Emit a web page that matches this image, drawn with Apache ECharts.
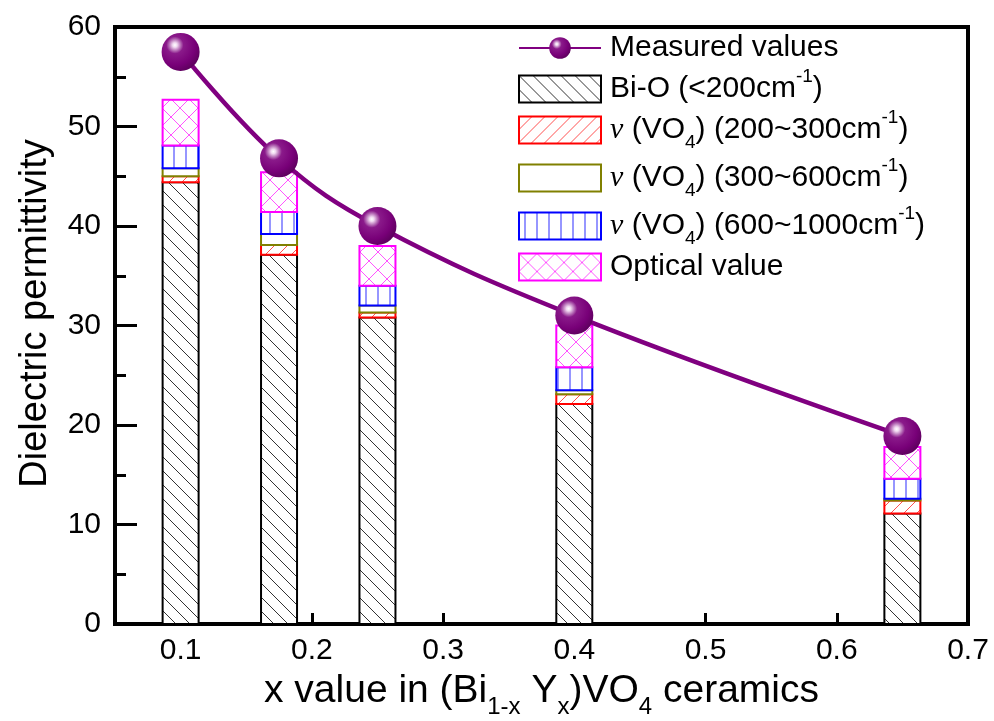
<!DOCTYPE html>
<html>
<head>
<meta charset="utf-8">
<title>Dielectric permittivity</title>
<script src="https://cdn.jsdelivr.net/npm/echarts@6.0.0/dist/echarts.min.js"></script>
<style>
  html, body { margin: 0; padding: 0; background: #fff; }
  #chart { width: 994px; height: 721px; }
</style>
</head>
<body>
<div id="chart"></div>
<script>
// x = Y content in (Bi1-xYx)VO4
const xValues = [0.1, 0.175, 0.25, 0.4, 0.65]
const measured = [57.5, 46.8, 40.0, 31.0, 18.9]
// stacked contributions (bottom to top)
const biO = [44.4, 37.1, 30.8, 22.1, 11.1]
const vo4Low = [0.6, 1.0, 0.5, 1.0, 1.3]
const vo4Mid = [0.8, 1.1, 0.7, 0.4, 0.2]
const vo4High = [2.3, 2.2, 2.0, 2.3, 2.0]
const optical = [4.6, 4.0, 4.0, 4.2, 3.2]
const xTicks = [0.1, 0.2, 0.3, 0.4, 0.5, 0.6, 0.7]

const FONT = 'Liberation Sans, Arial, sans-serif'
const BAR_W = 36

// small repeating canvas tiles for the hatch fills
function hatch(size, color, width, draw) {
  const c = document.createElement('canvas')
  c.width = size
  c.height = size
  const ctx = c.getContext('2d')
  ctx.fillStyle = '#fff'
  ctx.fillRect(0, 0, size, size)
  ctx.strokeStyle = color
  ctx.lineWidth = width
  ctx.beginPath()
  draw(ctx, size)
  ctx.stroke()
  return { image: c, repeat: 'repeat' }
}
const back = (ctx, s) => {
  for (const k of [-1, 0, 1]) { ctx.moveTo(k * s, 0); ctx.lineTo(k * s + s, s) }
}
const fwd = (ctx, s) => {
  for (const k of [-1, 0, 1]) { ctx.moveTo(k * s, s); ctx.lineTo(k * s + s, 0) }
}
const vert = (ctx, s) => { ctx.moveTo(s / 2, 0); ctx.lineTo(s / 2, s) }
const cross = (ctx, s) => { back(ctx, s); fwd(ctx, s) }

const pBiO = hatch(14, '#333', 1, back)
const pLow = hatch(13, '#ff5050', 1, fwd)
const pHigh = hatch(12, '#5050ff', 1.2, vert)
const pOpt = hatch(18, '#ff55ff', 1, cross)

// segments stacked in this order
const segments = [
  { name: 'Bi-O', values: biO, fill: pBiO, border: '#000' },
  { name: 'v1', values: vo4Low, fill: pLow, border: '#ff0000' },
  { name: 'v2', values: vo4Mid, fill: '#fff', border: '#808000' },
  { name: 'v3', values: vo4High, fill: pHigh, border: '#0000ff' },
  { name: 'Optical value', values: optical, fill: pOpt, border: '#ff00ff' }
]

// [x, bottom, top] rows for each segment
function stackedRows(k) {
  return xValues.map((x, i) => {
    let lo = 0
    for (let j = 0; j < k; j++) lo += segments[j].values[i]
    return [x, lo, lo + segments[k].values[i]]
  })
}

function segmentSeries(seg, k) {
  return {
    name: seg.name,
    type: 'custom',
    data: stackedRows(k),
    encode: { x: 0, y: [1, 2] },
    itemStyle: { color: seg.fill, borderColor: seg.border, borderWidth: 2 },
    z: 2,
    renderItem: (params, api) => {
      const x = api.value(0)
      const p0 = api.coord([x, api.value(1)])
      const p1 = api.coord([x, api.value(2)])
      return {
        type: 'rect',
        shape: { x: p0[0] - BAR_W / 2, y: p1[1], width: BAR_W, height: p0[1] - p1[1] },
        style: { fill: seg.fill, stroke: seg.border, lineWidth: 2 }
      }
    }
  }
}

const legendLabels = {
  'Measured values': '{t|Measured values}',
  'Bi-O': '{t|Bi-O (<200cm}{sup|-1}{t|)}',
  'v1': '{nu|ν}{t| (VO}{sub|4}{t|) (200~300cm}{sup|-1}{t|)}',
  'v2': '{nu|ν}{t| (VO}{sub|4}{t|) (300~600cm}{sup|-1}{t|)}',
  'v3': '{nu|ν}{t| (VO}{sub|4}{t|) (600~1000cm}{sup|-1}{t|)}',
  'Optical value': '{t|Optical value}'
}

const sphere = {
  type: 'radial',
  x: 0.35,
  y: 0.32,
  r: 0.75,
  colorStops: [
    { offset: 0, color: '#ffffff' },
    { offset: 0.08, color: '#f0d8f0' },
    { offset: 0.18, color: '#c080c0' },
    { offset: 0.3, color: '#8a1a8a' },
    { offset: 0.7, color: '#780078' },
    { offset: 1, color: '#5a005a' }
  ]
}

const chart = echarts.init(document.getElementById('chart'))
chart.setOption({
  animation: false,
  backgroundColor: '#fff',
  grid: {
    left: 115, right: 26, top: 27, bottom: 97,
    containLabel: false,
    outerBoundsMode: 'none',
    show: true, borderColor: '#000', borderWidth: 4, backgroundColor: 'transparent'
  },
  legend: {
    orient: 'vertical',
    left: 513,
    top: 28,
    itemWidth: 82,
    itemHeight: 27,
    itemGap: 4,
    selectedMode: false,
    data: [
      { name: 'Measured values' },
      { name: 'Bi-O', icon: 'rect' },
      { name: 'v1', icon: 'rect' },
      { name: 'v2', icon: 'rect' },
      { name: 'v3', icon: 'rect' },
      { name: 'Optical value', icon: 'rect' }
    ],
    formatter: (n) => legendLabels[n],
    textStyle: {
      fontFamily: FONT,
      fontSize: 30,
      color: '#000',
      padding: [0, 0, 0, 4],
      rich: {
        t: { fontFamily: FONT, fontSize: 30, lineHeight: 44, verticalAlign: 'middle', color: '#000' },
        nu: { fontFamily: 'Liberation Serif, serif', fontStyle: 'italic', fontSize: 30, lineHeight: 44, color: '#000' },
        sup: { fontFamily: FONT, fontSize: 19, lineHeight: 20, verticalAlign: 'top', color: '#000' },
        sub: { fontFamily: FONT, fontSize: 19, lineHeight: 14, verticalAlign: 'bottom', color: '#000' }
      }
    }
  },
  xAxis: {
    type: 'value',
    min: 0.05,
    max: 0.7,
    splitLine: { show: false },
    axisLine: { lineStyle: { color: '#000', width: 4 } },
    axisTick: { inside: true, length: 11, lineStyle: { width: 3, color: '#000' }, customValues: xTicks },
    axisLabel: {
      customValues: xTicks,
      formatter: (v) => v.toFixed(1),
      fontFamily: FONT,
      fontSize: 30,
      color: '#000',
      margin: 12
    },
    name: '{t|x value in (Bi}{sub|1-x}{t| Y}{sub|x}{t|)VO}{sub|4}{t| ceramics}',
    nameLocation: 'middle',
    nameGap: 39,
    nameTextStyle: {
      rich: {
        t: { fontFamily: FONT, fontSize: 39, lineHeight: 56, verticalAlign: 'middle', color: '#000' },
        sub: { fontFamily: FONT, fontSize: 24, lineHeight: 20, verticalAlign: 'bottom', color: '#000' }
      }
    }
  },
  yAxis: {
    type: 'value',
    min: 0,
    max: 60,
    interval: 10,
    splitLine: { show: false },
    axisLine: { lineStyle: { color: '#000', width: 4 } },
    axisTick: { inside: true, length: 22, lineStyle: { width: 3, color: '#000' } },
    minorTick: { show: true, splitNumber: 2, length: 11, lineStyle: { width: 3, color: '#000' } },
    axisLabel: { fontFamily: FONT, fontSize: 30, color: '#000', margin: 14 },
    name: 'Dielectric permittivity',
    nameLocation: 'middle',
    nameGap: 60,
    nameTextStyle: { fontFamily: FONT, fontSize: 38, color: '#000', padding: [0, 0, 0, 24] }
  },
  series: [
    ...segments.map(segmentSeries),
    {
      name: 'Measured values',
      type: 'line',
      data: measured.map((y, i) => [xValues[i], y]),
      smooth: 0.4,
      symbol: 'circle',
      symbolSize: 38,
      lineStyle: { color: '#800080', width: 4.5 },
      itemStyle: { color: sphere },
      z: 5
    }
  ]
})
</script>
</body>
</html>
